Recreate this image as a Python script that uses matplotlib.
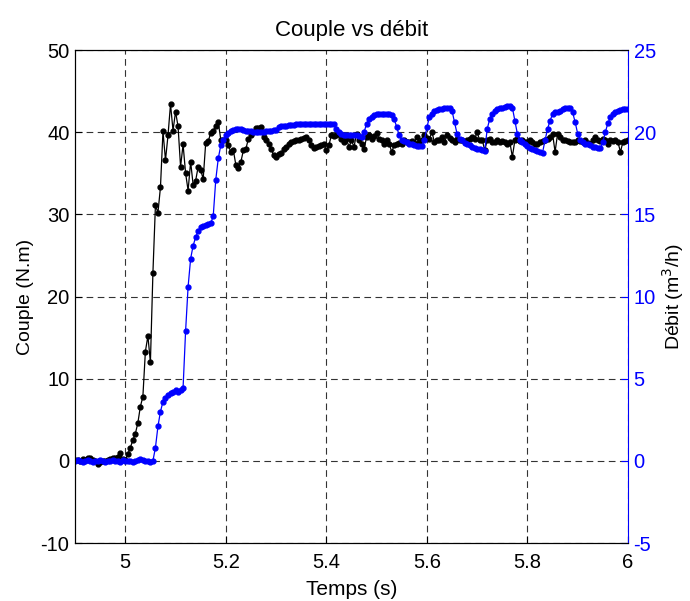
import numpy as np
import matplotlib
matplotlib.use("Agg")
import matplotlib.pyplot as plt

plt.rcParams['font.family'] = ['Liberation Sans', 'DejaVu Sans']
plt.rcParams['axes.unicode_minus'] = False

# sampling step (s) and start time
dt = 0.005
t0 = 4.9

# couple (N.m), one list per 0.1 s
couple_490 = [0.1, 0.1, 0.0, 0.2, 0.1, 0.3, 0.3, 0.1, 0.0, -0.4, -0.2, 0.0, 0.0, 0.1, 0.2, 0.3, 0.4, 0.5, 0.9, 0.2]
couple_500 = [0.1, 0.8, 1.6, 2.5, 3.3, 4.6, 6.6, 7.8, 13.3, 15.2, 12.0, 22.9, 31.1, 30.2, 33.3, 40.1, 36.6, 39.6, 43.4, 40.2]
couple_510 = [42.5, 40.7, 35.8, 38.5, 35.0, 32.9, 36.4, 33.6, 34.1, 35.8, 35.4, 34.3, 38.7, 38.9, 39.9, 40.2, 40.8, 41.2, 39.1, 39.0]
couple_520 = [39.0, 38.4, 37.6, 37.8, 36.0, 35.6, 36.4, 37.8, 38.0, 39.2, 39.6, 40.0, 40.5, 40.5, 40.6, 39.4, 39.0, 38.6, 38.0, 37.2]
couple_530 = [37.0, 37.3, 37.5, 37.9, 38.2, 38.5, 38.8, 38.9, 39.1, 39.0, 39.2, 39.3, 39.4, 39.0, 38.4, 38.1, 38.2, 38.3, 38.4, 38.5]
couple_540 = [37.8, 38.4, 39.6, 39.5, 39.6, 39.8, 39.2, 38.8, 39.2, 38.2, 39.0, 38.2, 39.8, 39.0, 38.6, 37.9, 39.4, 39.7, 39.2, 39.5]
couple_550 = [39.9, 39.2, 39.0, 38.6, 39.0, 38.6, 37.6, 38.4, 38.6, 38.7, 38.5, 39.0, 38.8, 38.8, 38.9, 38.7, 39.4, 38.8, 39.0, 39.6]
couple_560 = [39.3, 39.2, 40.0, 38.8, 39.0, 39.1, 39.4, 38.8, 39.6, 39.3, 39.0, 38.8, 39.2, 39.1, 39.0, 38.8, 39.0, 39.2, 39.4, 39.2]
couple_570 = [40.0, 39.0, 39.1, 37.8, 39.0, 39.2, 38.8, 38.8, 39.0, 38.8, 38.9, 38.8, 38.6, 38.8, 37.0, 39.0, 39.2, 38.9, 39.0, 38.8]
couple_580 = [38.8, 39.0, 38.8, 38.6, 38.6, 38.8, 38.9, 39.0, 39.2, 39.4, 39.8, 37.6, 39.8, 39.4, 39.0, 39.0, 38.9, 38.8, 38.8, 38.8]
couple_590 = [39.0, 38.9, 38.8, 39.0, 38.7, 38.6, 39.0, 39.4, 39.0, 38.9, 39.2, 39.0, 38.6, 39.0, 38.9, 39.0, 38.8, 37.6, 38.8, 38.9]
couple_600 = [39.0]

# debit (m3/h), one list per 0.1 s
debit_490 = [0.0, 0.05, 0.0, -0.05, 0.0, 0.05, 0.0, -0.05, 0.0, 0.0, 0.05, 0.0, -0.05, 0.0, 0.0, 0.05, 0.0, 0.0, -0.1, 0.05]
debit_500 = [0.0, 0.0, 0.0, -0.05, 0.0, 0.05, 0.1, 0.05, 0.0, 0.0, -0.05, 0.0, 0.8, 2.1, 3.0, 3.6, 3.85, 4.0, 4.15, 4.2]
debit_510 = [4.3, 4.2, 4.3, 4.45, 7.9, 10.6, 12.3, 13.1, 13.6, 14.0, 14.2, 14.3, 14.35, 14.4, 14.45, 14.9, 17.1, 18.4, 19.2, 19.5]
debit_520 = [19.8, 19.95, 20.1, 20.15, 20.2, 20.2, 20.2, 20.15, 20.1, 20.1, 20.05, 20.0, 20.0, 20.0, 20.0, 20.0, 20.05, 20.05, 20.1, 20.15]
debit_530 = [20.15, 20.3, 20.35, 20.4, 20.4, 20.45, 20.45, 20.45, 20.5, 20.5, 20.5, 20.5, 20.5, 20.5, 20.5, 20.5, 20.5, 20.5, 20.5, 20.5]
debit_540 = [20.5, 20.5, 20.5, 20.5, 20.2, 20.0, 19.9, 19.85, 19.8, 19.8, 19.8, 19.8, 19.8, 19.75, 19.7, 20.0, 20.5, 20.8, 20.95, 21.05]
debit_550 = [21.1, 21.1, 21.1, 21.1, 21.1, 21.1, 21.05, 20.8, 20.3, 19.8, 19.55, 19.45, 19.4, 19.3, 19.25, 19.2, 19.15, 19.15, 19.15, 19.5]
debit_560 = [20.3, 20.9, 21.1, 21.3, 21.35, 21.4, 21.4, 21.45, 21.5, 21.5, 21.3, 20.6, 19.9, 19.6, 19.5, 19.35, 19.3, 19.2, 19.1, 19.05]
debit_570 = [19.0, 18.95, 18.9, 18.85, 20.2, 20.8, 21.1, 21.3, 21.4, 21.5, 21.5, 21.55, 21.6, 21.6, 21.5, 20.7, 19.9, 19.5, 19.4, 19.25]
debit_580 = [19.15, 19.05, 18.95, 18.9, 18.85, 18.8, 18.75, 19.5, 20.2, 20.7, 21.1, 21.2, 21.25, 21.3, 21.4, 21.45, 21.5, 21.5, 21.2, 20.6]
debit_590 = [19.9, 19.55, 19.4, 19.3, 19.25, 19.2, 19.1, 19.1, 19.05, 19.05, 19.4, 20.0, 20.55, 20.9, 21.1, 21.2, 21.3, 21.35, 21.4, 21.4]
debit_600 = [21.4]

couple = (couple_490 + couple_500 + couple_510 + couple_520 + couple_530 + couple_540
          + couple_550 + couple_560 + couple_570 + couple_580 + couple_590 + couple_600)
debit = (debit_490 + debit_500 + debit_510 + debit_520 + debit_530 + debit_540
         + debit_550 + debit_560 + debit_570 + debit_580 + debit_590 + debit_600)

t_c = t0 + dt * np.arange(len(couple))
t_d = t0 + dt * np.arange(len(debit))

xticks = [5, 5.2, 5.4, 5.6, 5.8, 6]
xticklabels = ['5', '5.2', '5.4', '5.6', '5.8', '6']

fig = plt.figure(figsize=(6.9, 6.01), dpi=100)
ax = fig.add_axes([0.1087, 0.0965, 0.8014, 0.8203])
ax2 = ax.twinx()

ax.plot(t_c, couple, '-o', color='k', lw=0.9, ms=3.5)
ax2.plot(t_d, debit, '-o', color='b', lw=0.9, ms=3.5)

ax.set_xlim(4.9, 6)
ax.set_ylim(-10, 50)
ax2.set_ylim(-5, 25)
ax.set_xticks(xticks)
ax.set_xticklabels(xticklabels)
ax.set_yticks(np.arange(-10, 51, 10))
ax2.set_yticks(np.arange(-5, 26, 5))

ax.grid(True, color='0.2', linestyle=(0, (6, 4)), lw=0.8)

for a in (ax, ax2):
    a.tick_params(direction='in', labelsize=14.5, length=5, pad=4)
ax.tick_params(axis='x', pad=7)
ax.tick_params(axis='y', colors='k')
ax2.tick_params(axis='y', colors='b', labelcolor='b')
ax2.spines['right'].set_color('b')
ax.spines['right'].set_visible(False)

ax.set_title('Couple vs débit', fontsize=16, pad=10)
ax.set_xlabel('Temps (s)', fontsize=15, labelpad=6)
ax.set_ylabel('Couple (N.m)', fontsize=14, labelpad=5)
ax2.set_ylabel('Débit (m$^3$/h)', fontsize=14, color='k', labelpad=3)

fig.savefig('out.png', dpi=100)
